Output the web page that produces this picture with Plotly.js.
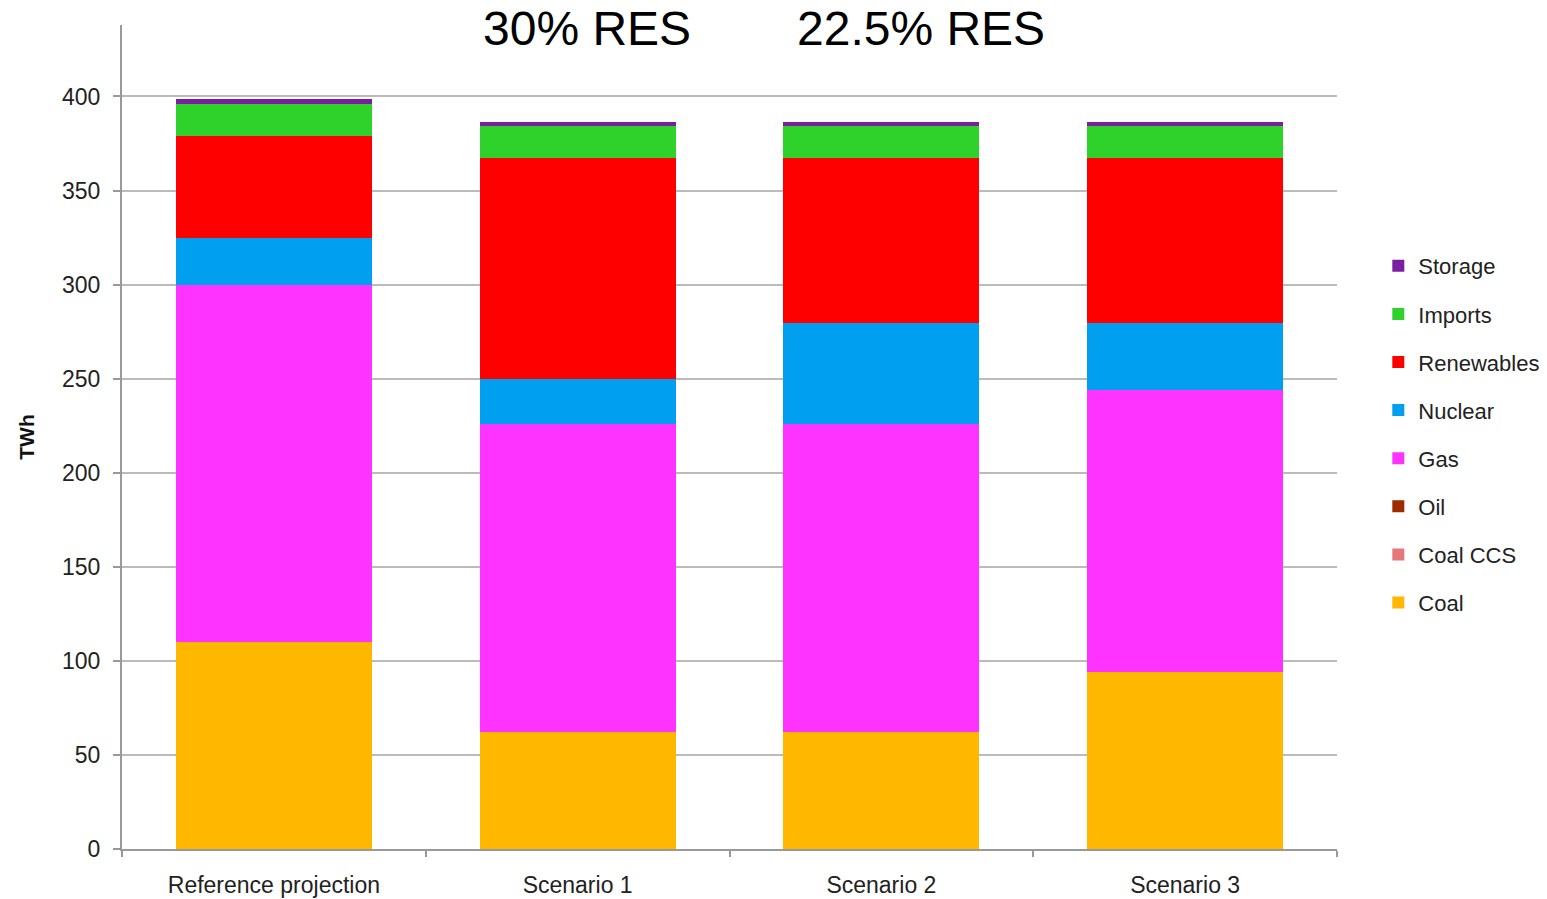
<!DOCTYPE html>
<html>
<head>
<meta charset="utf-8">
<script src="https://cdn.plot.ly/plotly-3.0.1.min.js"></script>
<style>html,body{margin:0;padding:0;background:#fff;}#chart{width:1547px;height:899px;}</style>
</head>
<body>
<div id="chart"></div>
<script>
const categories = ["Reference projection", "Scenario 1", "Scenario 2", "Scenario 3"];
const coal       = [110, 62, 62, 94];
const coalCCS    = [0, 0, 0, 0];
const oil        = [0, 0, 0, 0];
const gas        = [190, 164, 164, 150];
const nuclear    = [25, 24, 53.5, 35.5];
const renewables = [54, 117.5, 88, 88];
const imports    = [17, 17, 17, 17];
const storage    = [2.5, 2, 2, 2];
const annotationsText = ["30% RES", "22.5% RES"];

const series = [
  {name: "Coal", y: coal, color: "#FFB700"},
  {name: "Coal CCS", y: coalCCS, color: "#E6787B"},
  {name: "Oil", y: oil, color: "#9E2A00"},
  {name: "Gas", y: gas, color: "#FF33FF"},
  {name: "Nuclear", y: nuclear, color: "#009FEF"},
  {name: "Renewables", y: renewables, color: "#FF0000"},
  {name: "Imports", y: imports, color: "#2ED22A"},
  {name: "Storage", y: storage, color: "#7A1FA2"}
];

const traces = series.map((s, i) => ({
  type: "bar",
  name: s.name,
  x: categories,
  y: s.y,
  legendgroup: s.name,
  legendrank: 1000 - i * 10,
  marker: {color: s.color, line: {width: 0}},
  width: 0.645
}));

const layout = {
  width: 1547, height: 899,
  margin: {l: 122, r: 210, t: 25, b: 50, autoexpand: false},
  barmode: "stack",
  paper_bgcolor: "#fff", plot_bgcolor: "#fff",
  font: {family: "Liberation Sans, Arial, sans-serif", size: 22, color: "#222"},
  showlegend: true,
  legend: {
    x: 1.034, xanchor: "left", y: 0.733, yanchor: "top",
    traceorder: "grouped", tracegroupgap: 16.5,
    font: {size: 22, color: "#222"},
    itemwidth: 30
  },
  xaxis: {
    type: "category",
    showline: true, linecolor: "#999", linewidth: 2,
    ticks: "outside", tickson: "boundaries", ticklen: 6, tickcolor: "#999", tickwidth: 2,
    ticklabelstandoff: 14,
    showgrid: false, zeroline: false,
    tickfont: {size: 23, color: "#222"}
  },
  yaxis: {
    range: [0, 438],
    tickvals: [0, 50, 100, 150, 200, 250, 300, 350, 400],
    showline: true, linecolor: "#999", linewidth: 2,
    ticks: "outside", ticklen: 7, tickcolor: "#999", tickwidth: 2,
    ticklabelstandoff: 8,
    showgrid: true, gridcolor: "#bbbbbb", gridwidth: 2,
    zeroline: false,
    tickfont: {size: 23, color: "#222"},
    title: {text: "<b>TWh</b>", font: {size: 21, color: "#111"}, standoff: 22}
  },
  annotations: [
    {text: annotationsText[0], xref: "paper", yref: "paper", x: 0.383, y: 0.996, xanchor: "center", yanchor: "middle", showarrow: false, font: {size: 48, color: "#000"}},
    {text: annotationsText[1], xref: "paper", yref: "paper", x: 0.658, y: 0.996, xanchor: "center", yanchor: "middle", showarrow: false, font: {size: 48, color: "#000"}}
  ]
};

Plotly.newPlot("chart", traces, layout, {displayModeBar: false, staticPlot: true});
</script>
</body>
</html>
